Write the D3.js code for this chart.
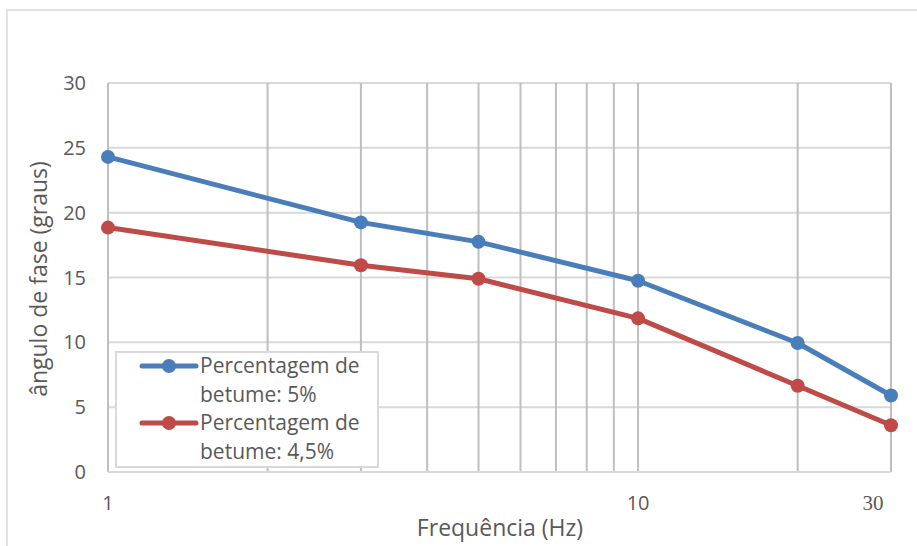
<!DOCTYPE html>
<head>
<meta charset="utf-8">
<script src="https://d3js.org/d3.v7.min.js"></script>
</head>
<body style="margin:0;background:#fff">
<style>
  * { font-family: "Open Sans", Calibri, sans-serif; }
</style>
<div id="viz"></div>
<script>

// frequency (Hz) and phase angle for each bitumen content
var freqs = [1, 3, 5, 10, 20, 30];
var betume5 = [24.3, 19.25, 17.75, 14.75, 9.95, 5.9];
var betume45 = [18.85, 15.95, 14.9, 11.85, 6.65, 3.6];
var seriesNames = ["Percentagem de betume: 5%", "Percentagem de betume: 4,5%"];
var seriesColors = ["#4a7ebb", "#be4b48"];
var yTicks = [0, 5, 10, 15, 20, 25, 30];
var xGrid = [1, 2, 3, 4, 5, 6, 7, 8, 9, 10, 20, 30];
var xLabels = [1, 10, 30];

var W = 917, H = 546;
var margin = {top: 83, right: 26, bottom: 74, left: 108},
    width = W - margin.left - margin.right,
    height = H - margin.top - margin.bottom;

var svg0 = d3.select("#viz")
  .append("svg")
    .attr("width", W)
    .attr("height", H);

// outer chart border
svg0.append("rect")
  .attr("x", 7).attr("y", 10)
  .attr("width", W - 6).attr("height", H)
  .attr("fill", "none")
  .attr("stroke", "#d9d9d9")
  .attr("stroke-width", 1.5);

var svg = svg0.append("g")
    .attr("transform", "translate(" + margin.left + "," + margin.top + ")");

var x = d3.scaleLog().domain([1, 30]).range([0, width]);
var y = d3.scaleLinear().domain([0, 30]).range([height, 0]);

// horizontal gridlines
svg.selectAll(".hgrid")
  .data(yTicks)
  .enter().append("line")
    .attr("x1", 0).attr("x2", width)
    .attr("y1", function(d) { return y(d); })
    .attr("y2", function(d) { return y(d); })
    .attr("stroke", "#d9d9d9")
    .attr("stroke-width", 2);

// vertical gridlines
svg.selectAll(".vgrid")
  .data(xGrid)
  .enter().append("line")
    .attr("x1", function(d) { return x(d); })
    .attr("x2", function(d) { return x(d); })
    .attr("y1", 0).attr("y2", height)
    .attr("stroke", "#bfbfbf")
    .attr("stroke-width", 2);

// bottom axis line
svg.append("line")
  .attr("x1", 0).attr("x2", width)
  .attr("y1", height).attr("y2", height)
  .attr("stroke", "#d9d9d9")
  .attr("stroke-width", 2);

// y tick labels
svg.selectAll(".ylab")
  .data(yTicks)
  .enter().append("text")
    .attr("x", -22)
    .attr("y", function(d) { return y(d); })
    .attr("dy", "0.35em")
    .attr("text-anchor", "end")
    .style("font-size", "20px")
    .style("fill", "#595959")
    .text(function(d) { return d; });

// x tick labels
svg.selectAll(".xlab")
  .data(xLabels)
  .enter().append("text")
    .attr("x", function(d) { return d == 30 ? x(d) - 18 : x(d); })
    .attr("y", height + 38)
    .attr("text-anchor", "middle")
    .style("font-size", function(d) { return d == 30 ? "21px" : "20px"; })
    .style("font-family", function(d) { return d == 30 ? "'Liberation Serif', serif" : null; })
    .style("fill", "#595959")
    .text(function(d) { return d; });

// axis titles
svg.append("text")
  .attr("x", 392)
  .attr("y", height + 64)
  .attr("text-anchor", "middle")
  .style("font-size", "23px")
  .style("fill", "#595959")
  .text("Frequência (Hz)");

svg.append("text")
  .attr("transform", "rotate(-90)")
  .attr("x", -(279 - margin.top))
  .attr("y", -61)
  .attr("text-anchor", "middle")
  .style("font-size", "23px")
  .style("fill", "#595959")
  .text("ângulo de fase (graus)");

// lines and markers
var allSeries = [betume5, betume45];
var line = d3.line()
  .x(function(d, i) { return x(freqs[i]); })
  .y(function(d) { return y(d); });

allSeries.forEach(function(vals, k) {
  svg.append("path")
    .datum(vals)
    .attr("fill", "none")
    .attr("stroke", seriesColors[k])
    .attr("stroke-width", 5)
    .attr("stroke-linejoin", "round")
    .attr("d", line);
  svg.selectAll(".pt" + k)
    .data(vals)
    .enter().append("circle")
      .attr("cx", function(d, i) { return x(freqs[i]); })
      .attr("cy", function(d) { return y(d); })
      .attr("r", 7)
      .attr("fill", seriesColors[k]);
});

// legend
var lg = svg0.append("g").attr("transform", "translate(116,352)");
lg.append("rect")
  .attr("width", 262).attr("height", 115)
  .attr("fill", "#fff")
  .attr("stroke", "#d9d9d9")
  .attr("stroke-width", 2);

seriesNames.forEach(function(name, k) {
  var gy = 14 + k * 57;
  lg.append("line")
    .attr("x1", 26).attr("x2", 80)
    .attr("y1", gy).attr("y2", gy)
    .attr("stroke", seriesColors[k])
    .attr("stroke-width", 5)
    .attr("stroke-linecap", "round");
  lg.append("circle")
    .attr("cx", 53).attr("cy", gy).attr("r", 7)
    .attr("fill", seriesColors[k]);
  var words = name.split(" ");
  var t = lg.append("text")
    .attr("x", 84)
    .attr("y", gy + 7)
    .style("font-size", "21px")
    .style("fill", "#595959");
  t.append("tspan").attr("x", 84).text(words.slice(0, 2).join(" "));
  t.append("tspan").attr("x", 84).attr("dy", 29).text(words.slice(2).join(" "));
});

</script>
</body>
